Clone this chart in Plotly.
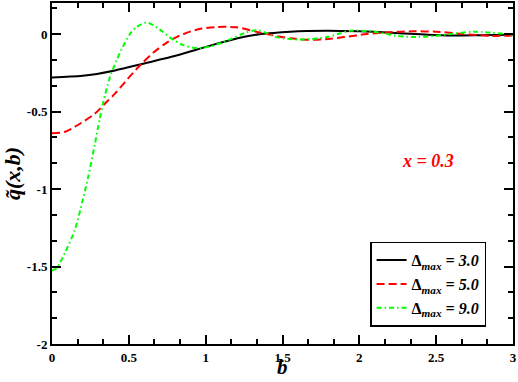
import plotly.graph_objects as go

# curve samples (b, q~)
b_d3 = [0.0, 0.2, 0.41, 0.6, 0.81, 1.03, 1.245, 1.35, 1.55, 1.79, 2.0, 2.18, 2.4, 2.6, 2.8, 3.0]
q_d3 = [-0.28, -0.27, -0.235, -0.19, -0.139, -0.075, -0.02, -0.002, 0.015, 0.021, 0.017, 0.01, -0.002, -0.01, -0.008, -0.005]

b_d5 = [0.0, 0.08, 0.15, 0.28, 0.345, 0.41, 0.475, 0.57, 0.66, 0.74, 0.81, 0.94, 1.07, 1.2, 1.33, 1.42,
        1.55, 1.68, 1.8, 1.9, 2.05, 2.2, 2.35, 2.5, 2.67, 2.86, 3.0]
q_d5 = [-0.64, -0.632, -0.598, -0.513, -0.449, -0.385, -0.31, -0.205, -0.12, -0.06, -0.02, 0.028, 0.045, 0.043, 0.015, -0.005,
        -0.028, -0.038, -0.032, -0.02, 0.0, 0.012, 0.017, 0.015, 0.0, -0.012, -0.01]

b_d9 = [0.0, 0.03, 0.085, 0.15, 0.2, 0.236, 0.28, 0.31, 0.334, 0.377, 0.42, 0.45, 0.507, 0.55, 0.616, 0.7,
        0.78, 0.85, 0.92, 0.97, 1.03, 1.1, 1.17, 1.25, 1.33, 1.4, 1.46, 1.61, 1.79, 1.94, 2.07, 2.18, 2.23,
        2.38, 2.6, 2.75, 3.0]
q_d9 = [-1.525, -1.51, -1.41, -1.26, -1.07, -0.92, -0.705, -0.55, -0.44, -0.278, -0.17, -0.105, 0.0, 0.045, 0.074, 0.03,
        -0.032, -0.07, -0.088, -0.09, -0.08, -0.058, -0.03, 0.005, 0.025, 0.005, -0.02, -0.036, -0.02, 0.021, 0.017, 0.0, -0.01,
        -0.02, 0.0, 0.015, -0.005]

x_ticks = [0, 0.5, 1, 1.5, 2, 2.5, 3]
x_labels = ["0", "0.5", "1", "1.5", "2", "2.5", "3"]
y_ticks = [-2, -1.5, -1, -0.5, 0]
y_labels = ["-2", "-1.5", "-1", "-0.5", "0"]
legend_vals = ["3.0", "5.0", "9.0"]

SERIF = "Liberation Serif"

def legend_name(v):
    return "<b>Δ<sub><i>max</i></sub><i> = %s</i></b>" % v

fig = go.Figure()
fig.add_trace(go.Scatter(x=b_d3, y=q_d3, mode="lines", name=legend_name(legend_vals[0]),
                         line={"color": "black", "width": 2, "shape": "spline", "smoothing": 0.8}))
fig.add_trace(go.Scatter(x=b_d5, y=q_d5, mode="lines", name=legend_name(legend_vals[1]),
                         line={"color": "#ff0000", "width": 2, "dash": "8px,4px", "shape": "spline", "smoothing": 0.8}))
fig.add_trace(go.Scatter(x=b_d9, y=q_d9, mode="lines", name=legend_name(legend_vals[2]),
                         line={"color": "#00ff00", "width": 2, "dash": "5px,3px,1.5px,3px", "shape": "spline", "smoothing": 0.8}))

fig.add_annotation(x=2.45, y=-0.82, text="<b><i>x = 0.3</i></b>", showarrow=False,
                   font={"family": SERIF, "size": 18, "color": "#ff0000"})
# x-axis title sits just under the tick labels, as in the original
fig.add_annotation(x=0.5, y=-0.108, xref="paper", yref="paper", yanchor="bottom", showarrow=False,
                   text="<b><i>b</i></b>", font={"family": SERIF, "size": 21, "color": "black"})

axis_common = dict(
    showline=True, linecolor="black", linewidth=2, mirror="ticks", automargin=False,
    ticks="inside", ticklen=9, tickwidth=2, tickcolor="black",
    showgrid=False, zeroline=False, tickmode="array",
    tickfont={"family": SERIF, "size": 13, "color": "black"},
    minor={"ticks": "inside", "ticklen": 5, "tickwidth": 2, "tickcolor": "black",
           "dtick": 0.5 / 3, "tick0": 0, "showgrid": False},
)

fig.update_xaxes(range=[0, 3], tickvals=x_ticks, ticktext=["<b>%s</b>" % t for t in x_labels],
                 **axis_common)
fig.update_yaxes(range=[-2, 0.2], tickvals=y_ticks, ticktext=["<b>%s</b>" % t for t in y_labels],
                 title={"text": "<b><i>q\u0303(x,b)</i></b>", "standoff": 6,
                        "font": {"family": SERIF, "size": 22, "color": "black"}},
                 **axis_common)

fig.update_layout(
    width=518, height=382,
    margin={"l": 52, "r": 5, "t": 3, "b": 38},
    paper_bgcolor="white", plot_bgcolor="white",
    legend={"x": 0.69, "y": 0.3, "xanchor": "left", "yanchor": "top",
            "bordercolor": "black", "borderwidth": 1.5, "bgcolor": "white",
            "font": {"family": SERIF, "size": 16, "color": "black"},
            "itemwidth": 30, "tracegroupgap": 0},
)

# the page body has an 8px default margin; drop it so the figure sits at the window corner
fig.write_html("out.html", post_script="document.body.style.margin='0';", config={"displayModeBar": False})
